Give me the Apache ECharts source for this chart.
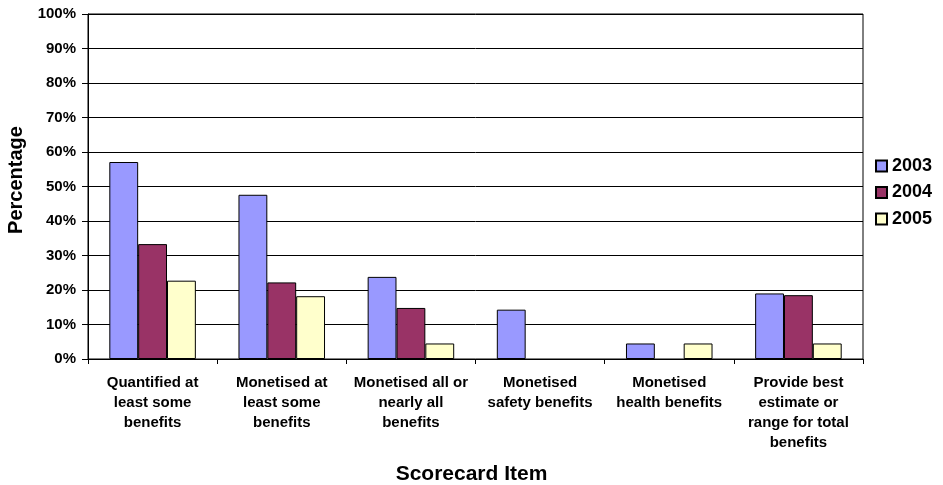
<!DOCTYPE html>
<html>
<head>
<meta charset="utf-8">
<script src="https://cdn.jsdelivr.net/npm/echarts@6/dist/echarts.min.js"></script>
<style>html,body{margin:0;padding:0;background:#fff;}#c{width:943px;height:485px;}</style>
</head>
<body>
<div id="c"></div>
<script>
var categories = [
  "Quantified at\nleast some\nbenefits",
  "Monetised at\nleast some\nbenefits",
  "Monetised all or\nnearly all\nbenefits",
  "Monetised\nsafety benefits",
  "Monetised\nhealth benefits",
  "Provide best\nestimate or\nrange for total\nbenefits"
];
var seriesNames = ["2003", "2004", "2005"];
var values2003 = [57.1, 47.6, 23.8, 14.3, 4.5, 19.0];
var values2004 = [33.3, 22.2, 14.8, 0, 0, 18.5];
var values2005 = [22.7, 18.2, 4.5, 0, 4.5, 4.5];
var yTicks = [0, 10, 20, 30, 40, 50, 60, 70, 80, 90, 100];
var xTitle = "Scorecard Item";
var yTitle = "Percentage";
var colors = ["#9999FF", "#993366", "#FFFFCC"];

var font = "Liberation Sans, Arial, sans-serif";
var chart = echarts.init(document.getElementById('c'));
var allVals = [values2003, values2004, values2005];
chart.setOption({
  animation: false,
  grid: { left: 88, right: 80, top: 14, bottom: 126, containLabel: false, outerBoundsMode: 'none',
          show: true, borderColor: '#000', borderWidth: 1, backgroundColor: 'transparent' },
  legend: {
    orient: 'vertical', left: 875, top: 157, padding: 0, itemWidth: 11, itemHeight: 11, itemGap: 8.5,
    icon: 'rect',
    textStyle: { fontFamily: font, fontWeight: 'bold', fontSize: 18, color: '#000' },
    data: seriesNames
  },
  graphic: [
    { type: 'text', left: 'center', top: 464, style: { text: xTitle, fontFamily: font, fontWeight: 'bold', fontSize: 21, fill: '#000' } },
    { type: 'text', x: 6, y: 180, rotation: Math.PI / 2, style: { text: yTitle, align: 'center', verticalAlign: 'top', fontFamily: font, fontWeight: 'bold', fontSize: 20, fill: '#000' } }
  ],
  xAxis: {
    type: 'category', data: categories,
    axisLine: { lineStyle: { color: '#000', width: 1 } },
    axisTick: { show: true, length: 5, lineStyle: { color: '#000' } },
    axisLabel: { interval: 0, fontFamily: font, fontWeight: 'bold', fontSize: 15, color: '#000', lineHeight: 20, margin: 14 }
  },
  yAxis: {
    type: 'value', min: yTicks[0], max: yTicks[yTicks.length - 1], interval: 10,
    axisLine: { show: true, lineStyle: { color: '#000', width: 1 } },
    axisTick: { show: true, length: 6, lineStyle: { color: '#000' } },
    splitLine: { lineStyle: { color: '#000', width: 1 } },
    axisLabel: { formatter: '{value}%', fontFamily: font, fontWeight: 'bold', fontSize: 15, color: '#000', margin: 12 }
  },
  series: seriesNames.map(function (n, i) {
    return {
      name: n, type: 'bar',
      data: allVals[i].map(function (v) { return v === 0 ? null : v; }),
      barGap: '0%', barCategoryGap: '33%',
      itemStyle: { color: colors[i], borderColor: '#000', borderWidth: 1 }
    };
  })
});
</script>
</body>
</html>
